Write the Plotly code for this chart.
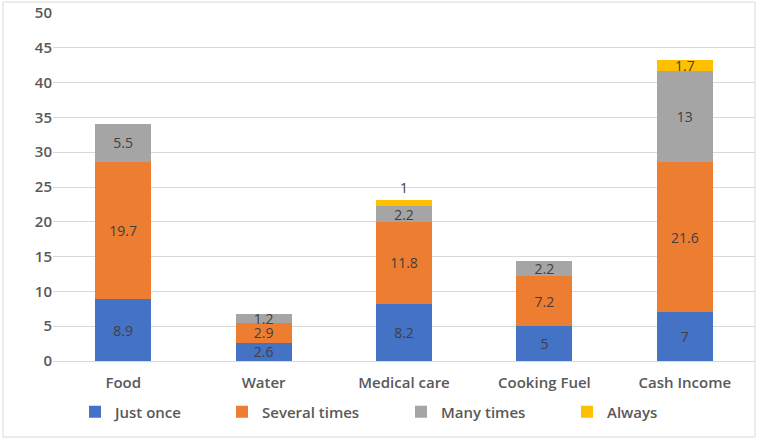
import plotly.graph_objects as go

categories = ["Food", "Water", "Medical care", "Cooking Fuel", "Cash Income"]
just_once = [8.9, 2.6, 8.2, 5, 7]
several_times = [19.7, 2.9, 11.8, 7.2, 21.6]
many_times = [5.5, 1.2, 2.2, 2.2, 13]
always = [None, None, 1, None, 1.7]
always_pos = ["inside", "inside", "outside", "inside", "inside"]

series_names = ["Just once", "Several times", "Many times", "Always"]
series_values = [just_once, several_times, many_times, always]
series_colors = ["#4472C4", "#ED7D31", "#A5A5A5", "#FFC000"]
series_pos = ["inside", "inside", "inside", always_pos]

W, H = 758, 440
ml, mr, mt, mb = 53, 3, 13, 79
pw, ph = W - ml - mr, H - mt - mb

FONT = "Open Sans"
legend_names = ["legend", "legend2", "legend3", "legend4"]
legend_text_x = [115, 262, 441, 607]

fig = go.Figure()
for i, (name, vals, color, pos) in enumerate(zip(series_names, series_values, series_colors, series_pos)):
    fig.add_trace(go.Bar(
        name=name, x=categories, y=vals, marker=dict(color=color, line=dict(width=0)),
        text=[("" if v is None else f"{v:g}") for v in vals],
        textposition=pos, insidetextanchor="middle", constraintext="none",
        textfont=dict(family=FONT, size=14, color="#404040"),
        outsidetextfont=dict(family=FONT, size=14, color="#404040"),
        cliponaxis=False, legend=legend_names[i], showlegend=True,
    ))

legend_common = dict(orientation="h", yanchor="middle", y=-(412 - (H - mb)) / ph,
                     xanchor="left", bgcolor="rgba(0,0,0,0)",
                     font=dict(family=FONT, size=15, color="#595959", weight=600),
                     itemwidth=30, visible=True)
legends = {}
for ln, tx in zip(legend_names, legend_text_x):
    legends[ln] = dict(legend_common, x=(tx - 40 - ml) / pw)

fig.update_layout(
    width=W, height=H, barmode="stack", bargap=0.6, showlegend=True,
    margin=dict(l=ml, r=mr, t=mt, b=mb, autoexpand=False),
    plot_bgcolor="white", paper_bgcolor="white",
    font=dict(family=FONT, color="#595959"),
    yaxis=dict(range=[0, 50], dtick=5, showgrid=True, gridcolor="#D9D9D9", gridwidth=1,
               zeroline=True, zerolinecolor="#D9D9D9", zerolinewidth=1,
               tickfont=dict(family=FONT, size=15, color="#595959", weight=600),
               ticks="", ticklen=0, automargin=False, fixedrange=True),
    xaxis=dict(tickfont=dict(family=FONT, size=15, color="#595959", weight=600),
               showline=False, ticks="", automargin=False, ticklabelstandoff=11),
    shapes=[dict(type="rect", xref="paper", yref="paper",
                 x0=(3 - ml) / pw, x1=(755 - ml) / pw,
                 y0=-(437 - (H - mb)) / ph, y1=1 + (mt - 2) / ph,
                 line=dict(color="#D9D9D9", width=1), layer="below")],
    **legends,
)
fig.write_html("out.html", config={"displayModeBar": False},
               post_script="document.body.style.margin='0';document.body.style.overflow='hidden';")
